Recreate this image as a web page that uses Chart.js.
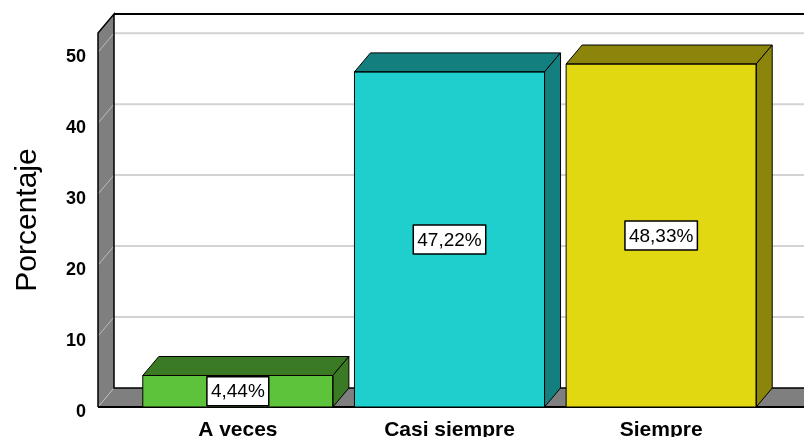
<!DOCTYPE html>
<html>
<head>
<meta charset="utf-8">
<script src="https://cdn.jsdelivr.net/npm/chart.js@4/dist/chart.umd.min.js"></script>
<style>
  html, body { margin: 0; padding: 0; background: #fff; }
  #wrap { width: 804px; height: 437px; }
</style>
</head>
<body>
<div id="wrap"><canvas id="chart" width="804" height="437"></canvas></div>
<script>
// data
let categories = ['A veces', 'Casi siempre', 'Siempre'];
let percentValues = [4.44, 47.22, 48.33];
let frontColors = ['#5cc33a', '#1ecfce', '#e2d812'];
let shadeColors = ['#3b7a24', '#137f7e', '#8c850b'];
let yTicks = [0, 10, 20, 30, 40, 50];

// 3d depth of the SPSS-style drawing
let depthX = 16;
let depthY = 19;
let wallLeft = 98;

let font = 'Arial, "Liberation Sans", sans-serif';

let depthPlugin = {
    id: 'depth3d',

    beforeDatasetsDraw: function(chart) {
        let ctx = chart.ctx;
        let area = chart.chartArea;
        let yScale = chart.scales.y;
        let right = chart.width;
        let top = area.top;
        let bottom = area.bottom;

        ctx.save();

        // back wall grid lines
        ctx.strokeStyle = '#d3d3d3';
        ctx.lineWidth = 2;
        yTicks.forEach(function(t) {
            if (t === 0) return;
            let y = yScale.getPixelForValue(t) - depthY;
            ctx.beginPath();
            ctx.moveTo(wallLeft + depthX, y);
            ctx.lineTo(right, y);
            ctx.stroke();
        });

        // back wall top border
        ctx.strokeStyle = '#000';
        ctx.lineWidth = 2;
        ctx.beginPath();
        ctx.moveTo(wallLeft + depthX, top - depthY);
        ctx.lineTo(right, top - depthY);
        ctx.stroke();

        // left wall
        ctx.fillStyle = '#7f7f7f';
        ctx.beginPath();
        ctx.moveTo(wallLeft, top);
        ctx.lineTo(wallLeft + depthX, top - depthY);
        ctx.lineTo(wallLeft + depthX, bottom - depthY);
        ctx.lineTo(wallLeft, bottom);
        ctx.closePath();
        ctx.fill();

        // floor
        ctx.beginPath();
        ctx.moveTo(wallLeft, bottom);
        ctx.lineTo(wallLeft + depthX, bottom - depthY);
        ctx.lineTo(right, bottom - depthY);
        ctx.lineTo(right, bottom);
        ctx.closePath();
        ctx.fill();

        // grid lines across the wall
        ctx.strokeStyle = '#bdbdbd';
        ctx.lineWidth = 1;
        yTicks.forEach(function(t) {
            let y = yScale.getPixelForValue(t);
            ctx.beginPath();
            ctx.moveTo(wallLeft, y);
            ctx.lineTo(wallLeft + depthX, y - depthY);
            ctx.stroke();
        });

        // wall and floor edges
        ctx.strokeStyle = '#000';
        ctx.lineWidth = 1.5;
        ctx.beginPath();
        ctx.moveTo(wallLeft, bottom);
        ctx.lineTo(wallLeft, top);
        ctx.lineTo(wallLeft + depthX, top - depthY);
        ctx.lineTo(wallLeft + depthX, bottom - depthY);
        ctx.lineTo(right, bottom - depthY);
        ctx.stroke();

        ctx.lineWidth = 2;
        ctx.beginPath();
        ctx.moveTo(wallLeft, bottom);
        ctx.lineTo(right, bottom);
        ctx.stroke();

        ctx.restore();
    },

    afterDatasetsDraw: function(chart) {
        let ctx = chart.ctx;
        let meta = chart.getDatasetMeta(0);

        ctx.save();
        ctx.strokeStyle = '#000';
        ctx.lineWidth = 1;
        ctx.lineJoin = 'round';

        meta.data.forEach(function(bar, i) {
            let props = bar.getProps(['x', 'y', 'base', 'width'], true);
            let left = props.x - props.width / 2;
            let right = props.x + props.width / 2;
            let y = props.y;
            let base = props.base;

            // top face
            ctx.fillStyle = shadeColors[i];
            ctx.beginPath();
            ctx.moveTo(left, y);
            ctx.lineTo(left + depthX, y - depthY);
            ctx.lineTo(right + depthX, y - depthY);
            ctx.lineTo(right, y);
            ctx.closePath();
            ctx.fill();
            ctx.stroke();

            // side face
            ctx.beginPath();
            ctx.moveTo(right, y);
            ctx.lineTo(right + depthX, y - depthY);
            ctx.lineTo(right + depthX, base - depthY);
            ctx.lineTo(right, base);
            ctx.closePath();
            ctx.fill();
            ctx.stroke();

            // front outline
            ctx.strokeRect(left, y, right - left, base - y);

            // value label box
            let text = percentValues[i].toFixed(2).replace('.', ',') + '%';
            ctx.font = '19px ' + font;
            let w = ctx.measureText(text).width + 8;
            let h = 29;
            let cy = (y + base) / 2;
            ctx.fillStyle = '#fff';
            ctx.fillRect(props.x - w / 2, cy - h / 2, w, h);
            ctx.lineWidth = 1.5;
            ctx.strokeRect(props.x - w / 2, cy - h / 2, w, h);
            ctx.lineWidth = 1;
            ctx.fillStyle = '#000';
            ctx.textAlign = 'center';
            ctx.textBaseline = 'middle';
            ctx.fillText(text, props.x, cy + 1);
        });

        ctx.restore();
    }
};

let data = {
    labels: categories,
    datasets: [{
        label: 'Porcentaje',
        data: percentValues,
        backgroundColor: frontColors,
        borderColor: '#000',
        borderWidth: 0,
        categoryPercentage: 1,
        barPercentage: 0.898
    }]
};

let config = {
    type: 'bar',
    data: data,
    options: {
        responsive: false,
        animation: false,
        layout: {
            padding: { top: 33, right: 37, bottom: 0, left: 0 }
        },
        plugins: {
            legend: { display: false },
            tooltip: { enabled: false }
        },
        scales: {
            x: {
                grid: { display: false, drawTicks: false },
                border: { display: false },
                ticks: {
                    padding: 11,
                    color: '#000',
                    font: { family: font, size: 21, weight: 'bold' }
                },
                afterFit: function(scale) {
                    scale.height = 30;
                    scale.paddingLeft = 0;
                    scale.paddingRight = 0;
                }
            },
            y: {
                min: 0,
                max: 52.7,
                grid: { display: false, drawTicks: false },
                border: { display: false },
                ticks: {
                    stepSize: 10,
                    padding: 46,
                    labelOffset: 5,
                    color: '#000',
                    font: { family: font, size: 18, weight: 'bold' }
                },
                afterBuildTicks: function(scale) {
                    scale.ticks = yTicks.map(function(v) { return { value: v }; });
                },
                title: {
                    display: true,
                    text: 'Porcentaje',
                    color: '#000',
                    padding: { top: 10, bottom: 0 },
                    font: { family: font, size: 30 }
                },
                afterFit: function(scale) {
                    scale.width = 132;
                    // tick padding would otherwise push the plot down
                    scale.paddingTop = 0;
                    scale.paddingBottom = 0;
                }
            }
        }
    },
    plugins: [depthPlugin]
};

let myChart = new Chart(document.getElementById('chart'), config);
</script>
</body>
</html>
